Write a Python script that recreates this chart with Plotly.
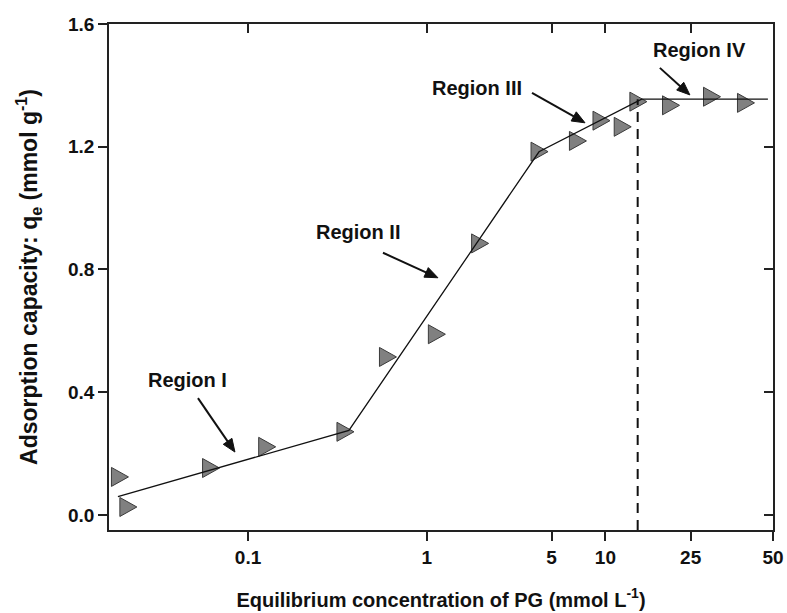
import numpy as np
import plotly.graph_objects as go

# ---- data ----
conc = [0.0192, 0.0214, 0.0621, 0.128, 0.351, 0.607, 1.14, 1.99, 4.28,
        7.02, 9.51, 12.5, 15.3, 23.3, 39.5, 61.2]
qe = [0.124, 0.026, 0.153, 0.222, 0.271, 0.515, 0.589, 0.885, 1.184,
      1.219, 1.285, 1.265, 1.347, 1.335, 1.363, 1.343]

fit_x = [0.0187, 0.367, 4.25, 15.96, 81.2]
fit_y = [0.060, 0.2755, 1.1836, 1.355, 1.355]

sat_x = [15.16, 15.16]
sat_y = [-0.049, 1.355]

x_tickvals = [0.1, 1, 5, 10, 30.0, 86.7]
x_ticktext = ["0.1", "1", "5", "10", "25", "50"]
y_tickvals = [0.0, 0.4, 0.8, 1.2, 1.6]

region_labels = ["Region I", "Region II", "Region III", "Region IV"]
label_x = [0.0461, 0.412, 1.91, 33.8]
label_y = [0.440, 0.923, 1.392, 1.516]
arrow_head_x = [0.0845, 1.156, 7.69, 29.7]
arrow_head_y = [0.205, 0.773, 1.278, 1.369]
arrow_ax = [-37, -55, -53, -30]   # tail offset from head, px (screen, right +)
arrow_ay = [-54, -25, -30, -27]   # tail offset from head, px (screen, down +)

FONT = "Liberation Sans, Arial, sans-serif"
xr = [-1.778, 1.938]
yr = [-0.049, 1.6]

fig = go.Figure()

# fitted line segments
fig.add_trace(go.Scatter(x=fit_x, y=fit_y, mode="lines",
                         line=dict(color="#111111", width=1.3),
                         showlegend=False, hoverinfo="skip"))
# saturation dashed line
fig.add_trace(go.Scatter(x=sat_x, y=sat_y, mode="lines",
                         line=dict(color="#111111", width=2, dash="10px,7px"),
                         showlegend=False, hoverinfo="skip"))
# invisible data trace for hover
fig.add_trace(go.Scatter(x=conc, y=qe, mode="markers",
                         marker=dict(size=16, opacity=0),
                         showlegend=False))
# dummy trace for mirrored axes
fig.add_trace(go.Scatter(x=[], y=[], xaxis="x2", yaxis="y2", showlegend=False))

# triangle markers drawn as pixel-sized shapes anchored on the data
tri = "M -8.5,-9.5 L -8.5,9.5 L 8.5,0 Z"
for cx, cy in zip(conc, qe):
    fig.add_shape(type="path", path=tri, xref="x", yref="y",
                  xsizemode="pixel", ysizemode="pixel",
                  xanchor=cx, yanchor=cy,
                  fillcolor="#808080", line=dict(color="#3a3a3a", width=1),
                  layer="below")

for t, lx, ly in zip(region_labels, label_x, label_y):
    fig.add_annotation(x=np.log10(lx), y=ly, xref="x", yref="y", text=t,
                       showarrow=False,
                       font=dict(family=FONT, size=20, color="#111111", weight="bold"))

# arrows: shaft + filled head, pixel-sized and anchored at the arrow tip
HEAD_LEN, HEAD_W = 13.0, 10.5
for hx, hy, axp, ayp in zip(arrow_head_x, arrow_head_y, arrow_ax, arrow_ay):
    tx, ty = float(axp), float(-ayp)   # tail in y-up pixel coords
    L = np.hypot(tx, ty)
    ux, uy = -tx / L, -ty / L          # unit vector tail -> tip
    bx, by = -ux * HEAD_LEN, -uy * HEAD_LEN
    px, py = -uy, ux
    p1 = (bx + px * HEAD_W / 2, by + py * HEAD_W / 2)
    p2 = (bx - px * HEAD_W / 2, by - py * HEAD_W / 2)
    fig.add_shape(type="path", xref="x", yref="y",
                  xsizemode="pixel", ysizemode="pixel",
                  xanchor=hx, yanchor=hy,
                  path=f"M {tx:.2f},{ty:.2f} L {bx*0.6:.2f},{by*0.6:.2f}",
                  line=dict(color="#111111", width=2))
    fig.add_shape(type="path", xref="x", yref="y",
                  xsizemode="pixel", ysizemode="pixel",
                  xanchor=hx, yanchor=hy,
                  path=f"M 0,0 L {p1[0]:.2f},{p1[1]:.2f} L {p2[0]:.2f},{p2[1]:.2f} Z",
                  fillcolor="#111111", line=dict(color="#111111", width=1))

axis_common = dict(showgrid=False, zeroline=False, tickcolor="#222222",
                   tickwidth=1.5, ticklen=9, automargin=False)

fig.update_layout(
    width=787, height=613,
    margin=dict(l=109, r=14, t=24, b=83, autoexpand=False),
    paper_bgcolor="white", plot_bgcolor="white",
    xaxis=dict(type="log", range=xr, tickvals=x_tickvals, ticktext=x_ticktext,
               ticks="outside", mirror=True, showline=True,
               linecolor="#222222", linewidth=1.5,
               tickfont=dict(family=FONT, size=19, color="#111111", weight="bold"),
               title=dict(text="Equilibrium concentration of PG (mmol L<sup>-1</sup>)",
                          font=dict(family=FONT, size=20, color="#111111", weight="bold"),
                          standoff=26),
               **axis_common),
    yaxis=dict(range=yr, tickvals=y_tickvals, tickformat=".1f",
               ticks="outside", mirror=True, showline=True,
               linecolor="#222222", linewidth=1.5,
               tickfont=dict(family=FONT, size=19, color="#111111", weight="bold"),
               title=dict(text="Adsorption capacity: q<sub>e</sub> (mmol g<sup>-1</sup>)",
                          font=dict(family=FONT, size=23, color="#111111", weight="bold"),
                          standoff=24),
               **axis_common),
    xaxis2=dict(type="log", range=xr, tickvals=x_tickvals, overlaying="x",
                side="top", ticks="inside", showticklabels=False, showline=False,
                **axis_common),
    yaxis2=dict(range=yr, tickvals=y_tickvals, overlaying="y", side="right",
                ticks="inside", showticklabels=False, showline=False,
                **axis_common),
)

fig.write_html("out.html")
